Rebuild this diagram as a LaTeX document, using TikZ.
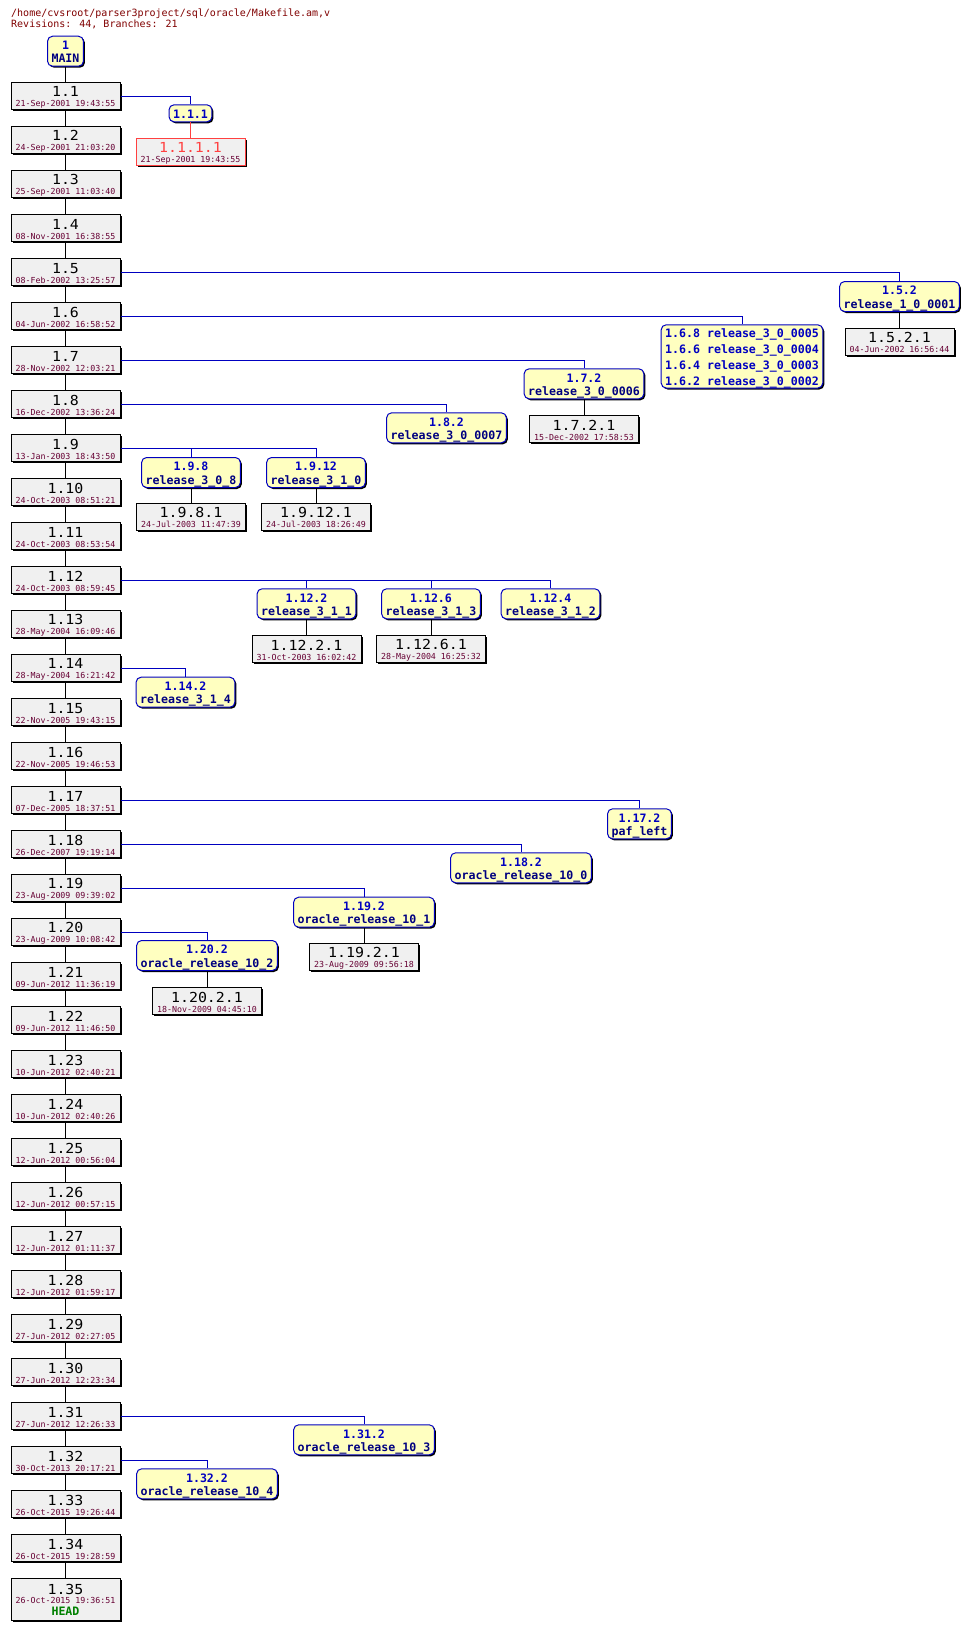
\documentclass[tikz,border=0pt]{standalone}
\usepackage{fontspec}
\usetikzlibrary{shadows}
\newfontfamily\dvm{DejaVu Sans Mono}
\newfontfamily\dvmrev[FakeStretch=1.08]{DejaVu Sans Mono}
\definecolor{titlec}{HTML}{800000}
\definecolor{datec}{HTML}{660033}
\definecolor{revbg}{HTML}{F0F0F0}
\definecolor{tagbg}{HTML}{FFFFC0}
\definecolor{brc}{HTML}{0000C0}
\definecolor{brtag}{HTML}{000080}
\definecolor{deadc}{HTML}{FF4040}
\definecolor{headc}{HTML}{008000}
\newcommand\fRev{\dvmrev\fontsize{13.8}{14}\selectfont}
\newcommand\fDate{\dvm\fontsize{8.3}{9}\selectfont\color{datec}}
\newcommand\fTag{\dvm\bfseries\fontsize{11.6}{13}\selectfont}
\newcommand\rtx[3][black]{\vbox{\offinterlineskip\halign{\hfil##\hfil\cr
\vrule height12.4pt depth0pt width0pt{\fRev\color{#1}#2}\cr
\noalign{\kern3.7pt}
\vrule height6pt depth0pt width0pt{\fDate #3}\cr}}}
\newcommand\htx[3]{\vbox{\offinterlineskip\halign{\hfil##\hfil\cr
\vrule height10pt depth0pt width0pt{\fRev #1}\cr
\noalign{\kern3.3pt}
\vrule height6pt depth0pt width0pt{\fDate #2}\cr
\noalign{\kern3.4pt}
\vrule height8.5pt depth0pt width0pt{\fTag\color{headc}#3}\cr}}}
\newcommand\ttwo[2]{\vbox{\offinterlineskip\halign{\hfil##\hfil\cr
\vrule height13pt depth0pt width0pt{\fTag\color{brc}#1}\cr
\vrule height13pt depth3pt width0pt{\fTag\color{brtag}#2}\cr}}}
\newcommand\tone[1]{\vbox{\offinterlineskip\halign{\hfil##\hfil\cr
\vrule height13pt depth2pt width0pt{\fTag\color{brc}#1}\cr}}}
\newcommand\tfour[4]{\vbox{\offinterlineskip\halign{##\hfil\cr
\vrule height13pt depth0pt width0pt{\fTag\color{brc}#1}\cr
\vrule height13pt depth0pt width0pt{\fTag\color{brc}#2}\cr
\vrule height13pt depth0pt width0pt{\fTag\color{brc}#3}\cr
\vrule height13pt depth3pt width0pt{\fTag\color{brc}#4}\cr}}}
\tikzset{
  revbox/.style={draw=black, fill=revbg, line width=1pt, minimum width=109pt,
    minimum height=27pt, inner sep=0pt, anchor=north,
    general shadow={fill=black, shadow xshift=1.5pt, shadow yshift=-1.5pt}},
  headbox/.style={revbox, minimum height=42pt},
  deadbox/.style={revbox, draw=deadc},
  tagbox/.style={draw=brc, fill=tagbg, line width=1pt, rounded corners=5pt,
    inner xsep=4pt, inner ysep=0pt, minimum height=30pt, anchor=north,
    general shadow={fill=black, shadow xshift=1.5pt, shadow yshift=-1.5pt}},
  trunk/.style={draw=black, line width=1pt},
  deadline/.style={draw=deadc, line width=1pt},
  brline/.style={draw=brc, line width=1pt},
  hdr/.style={anchor=base west, inner sep=0pt, text=titlec,
    font=\dvm\fontsize{10}{12}\selectfont},
}
\begin{document}
\begin{tikzpicture}[x=1pt,y=-1pt]
\fill[white] (0,0) rectangle (970,1631);
\useasboundingbox (0,0) rectangle (970,1631);
\node[hdr] (hdr1) at (11,16) {/home/cvsroot/parser3project/sql/oracle/Makefile.am,v};
\node[hdr] (hdr2) at (11,27) {Revisions: 44, Branches: 21};
% trunk
\node[tagbox] (tM) at (65.5,35.7) {\ttwo{1}{MAIN}};
\foreach \rv/\dt [count=\i] in {1/21-Sep-2001 19:43:55, 2/24-Sep-2001 21:03:20,
 3/25-Sep-2001 11:03:40, 4/08-Nov-2001 16:38:55, 5/08-Feb-2002 13:25:57,
 6/04-Jun-2002 16:58:52, 7/28-Nov-2002 12:03:21, 8/16-Dec-2002 13:36:24,
 9/13-Jan-2003 18:43:50, 10/24-Oct-2003 08:51:21, 11/24-Oct-2003 08:53:54,
 12/24-Oct-2003 08:59:45, 13/28-May-2004 16:09:46, 14/28-May-2004 16:21:42,
 15/22-Nov-2005 19:43:15, 16/22-Nov-2005 19:46:53, 17/07-Dec-2005 18:37:51,
 18/26-Dec-2007 19:19:14, 19/23-Aug-2009 09:39:02, 20/23-Aug-2009 10:08:42,
 21/09-Jun-2012 11:36:19, 22/09-Jun-2012 11:46:50, 23/10-Jun-2012 02:40:21,
 24/10-Jun-2012 02:40:26, 25/12-Jun-2012 00:56:04, 26/12-Jun-2012 00:57:15,
 27/12-Jun-2012 01:11:37, 28/12-Jun-2012 01:59:17, 29/27-Jun-2012 02:27:05,
 30/27-Jun-2012 12:23:34, 31/27-Jun-2012 12:26:33, 32/30-Oct-2013 20:17:21,
 33/26-Oct-2015 19:26:44, 34/26-Oct-2015 19:28:59}
 {\node[revbox] (r\i) at (65.5,{82.3+44*(\i-1)}) {\rtx{1.\rv}{\dt}};}
\node[headbox] (r35) at (65.5,1578.3) {\htx{1.35}{26-Oct-2015 19:36:51}{HEAD}};
\draw[trunk] (tM) -- (r1);
\foreach \i [evaluate=\i as \j using int(\i+1)] in {1,...,34}
  {\draw[trunk] (r\i) -- (r\j);}
% branch tags
\node[tagbox, minimum height=17pt] (t111) at (190.5,104.3) {\tone{1.1.1}};
\node[tagbox] (t152) at (899.5,281) {\ttwo{1.5.2}{release\_1\_0\_0001}};
\node[tagbox, minimum height=56pt] (t16) at (742,324.3)
  {\tfour{1.6.8 release\_3\_0\_0005}{1.6.6 release\_3\_0\_0004}{1.6.4 release\_3\_0\_0003}{1.6.2 release\_3\_0\_0002}};
\node[tagbox] (t172) at (584,368.3) {\ttwo{1.7.2}{release\_3\_0\_0006}};
\node[tagbox] (t182) at (446.5,412.3) {\ttwo{1.8.2}{release\_3\_0\_0007}};
\node[tagbox] (t198) at (191,457) {\ttwo{1.9.8}{release\_3\_0\_8}};
\node[tagbox] (t1912) at (316,457) {\ttwo{1.9.12}{release\_3\_1\_0}};
\node[tagbox] (t1122) at (306.5,588.3) {\ttwo{1.12.2}{release\_3\_1\_1}};
\node[tagbox] (t1126) at (431,588.3) {\ttwo{1.12.6}{release\_3\_1\_3}};
\node[tagbox] (t1124) at (550.5,588.3) {\ttwo{1.12.4}{release\_3\_1\_2}};
\node[tagbox] (t1142) at (185.5,676.7) {\ttwo{1.14.2}{release\_3\_1\_4}};
\node[tagbox] (t1172) at (639.5,808.3) {\ttwo{1.17.2}{paf\_left}};
\node[tagbox] (t1182) at (521,852.3) {\ttwo{1.18.2}{oracle\_release\_10\_0}};
\node[tagbox] (t1192) at (364,896.7) {\ttwo{1.19.2}{oracle\_release\_10\_1}};
\node[tagbox] (t1202) at (207,940) {\ttwo{1.20.2}{oracle\_release\_10\_2}};
\node[tagbox] (t1312) at (364,1424.3) {\ttwo{1.31.2}{oracle\_release\_10\_3}};
\node[tagbox] (t1322) at (207,1468.3) {\ttwo{1.32.2}{oracle\_release\_10\_4}};
% branch revisions
\node[deadbox] (b1111) at (190.5,138.3) {\rtx[deadc]{1.1.1.1}{21-Sep-2001 19:43:55}};
\node[revbox] (b1521) at (899.5,327.7) {\rtx{1.5.2.1}{04-Jun-2002 16:56:44}};
\node[revbox] (b1721) at (584,415) {\rtx{1.7.2.1}{15-Dec-2002 17:58:53}};
\node[revbox] (b1981) at (191,502.7) {\rtx{1.9.8.1}{24-Jul-2003 11:47:39}};
\node[revbox] (b19121) at (316,502.7) {\rtx{1.9.12.1}{24-Jul-2003 18:26:49}};
\node[revbox] (b11221) at (306.5,635) {\rtx{1.12.2.1}{31-Oct-2003 16:02:42}};
\node[revbox] (b11261) at (431,635) {\rtx{1.12.6.1}{28-May-2004 16:25:32}};
\node[revbox] (b11921) at (364,943.3) {\rtx{1.19.2.1}{23-Aug-2009 09:56:18}};
\node[revbox] (b12021) at (207,987) {\rtx{1.20.2.1}{18-Nov-2009 04:45:10}};
% branch lines
\draw[brline] (r1.east) -| (t111.north);
\draw[brline] (r5.east) -| (t152.north);
\draw[brline] (r6.east) -| (t16.north);
\draw[brline] (r7.east) -| (t172.north);
\draw[brline] (r8.east) -| (t182.north);
\draw[brline] (r9.east) -| (t198.north);
\draw[brline] (r9.east) -| (t1912.north);
\draw[brline] (r12.east) -| (t1122.north);
\draw[brline] (r12.east) -| (t1126.north);
\draw[brline] (r12.east) -| (t1124.north);
\draw[brline] (r14.east) -| (t1142.north);
\draw[brline] (r17.east) -| (t1172.north);
\draw[brline] (r18.east) -| (t1182.north);
\draw[brline] (r19.east) -| (t1192.north);
\draw[brline] (r20.east) -| (t1202.north);
\draw[brline] (r31.east) -| (t1312.north);
\draw[brline] (r32.east) -| (t1322.north);
% tag to revision
\draw[deadline] (t111) -- (b1111);
\draw[trunk] (t152) -- (b1521);
\draw[trunk] (t172) -- (b1721);
\draw[trunk] (t198) -- (b1981);
\draw[trunk] (t1912) -- (b19121);
\draw[trunk] (t1122) -- (b11221);
\draw[trunk] (t1126) -- (b11261);
\draw[trunk] (t1192) -- (b11921);
\draw[trunk] (t1202) -- (b12021);
\end{tikzpicture}
\end{document}
